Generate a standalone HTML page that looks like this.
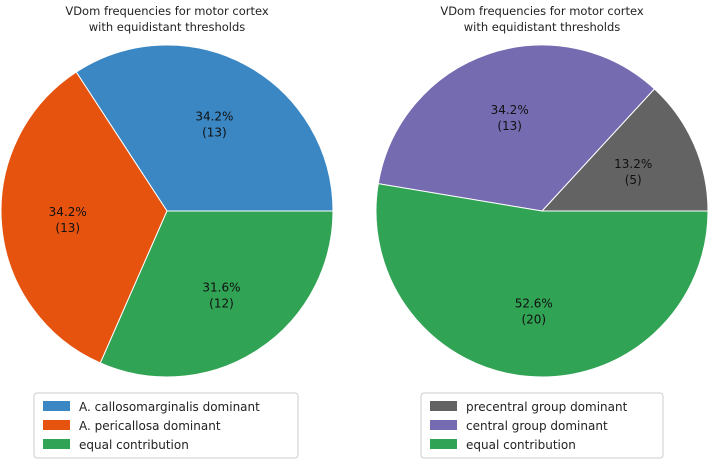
<!DOCTYPE html>
<html><head><meta charset="utf-8"><style>
body{margin:0;background:#fff;}
svg{font-family:"DejaVu Sans","Liberation Sans",sans-serif;}
</style></head><body>
<svg id="c" width="709" height="462" viewBox="0 0 709 462">
<text x="167" y="15" text-anchor="middle" font-size="11.5" fill="#222">VDom frequencies for motor cortex</text>
<text x="167" y="31" text-anchor="middle" font-size="11.5" fill="#222">with equidistant thresholds</text>
<text x="542" y="15" text-anchor="middle" font-size="11.5" fill="#222">VDom frequencies for motor cortex</text>
<text x="542" y="31" text-anchor="middle" font-size="11.5" fill="#222">with equidistant thresholds</text>
<g id="p1"></g><g id="p2"></g>
<g id="l1"></g><g id="l2"></g>
</svg>
<script>
const leftLabels=["A. callosomarginalis dominant","A. pericallosa dominant","equal contribution"];
const leftCounts=[13,13,12];
const rightLabels=["precentral group dominant","central group dominant","equal contribution"];
const rightCounts=[5,13,20];
const leftColors=["#3a87c4","#e5530f","#31a354"];
const rightColors=["#636363","#756bb1","#31a354"];
const NS="http://www.w3.org/2000/svg";
function mk(t,a,p){const e=document.createElementNS(NS,t);for(const k in a)e.setAttribute(k,a[k]);p.appendChild(e);return e;}
function pie(g,counts,colors,cx,cy,r,prefix){
  const tot=counts.reduce((a,b)=>a+b,0);let a0=0;
  counts.forEach((c,i)=>{
    const frac=c/tot,a1=a0+frac*2*Math.PI;
    const x0=cx+r*Math.cos(a0),y0=cy-r*Math.sin(a0),x1=cx+r*Math.cos(a1),y1=cy-r*Math.sin(a1);
    const p=mk("path",{d:`M${cx},${cy}L${x0},${y0}A${r},${r} 0 ${frac>0.5?1:0} 0 ${x1},${y1}Z`,fill:colors[i],stroke:"#fff","stroke-width":1},g);
    
    
    const am=(a0+a1)/2,lx=cx+0.6*r*Math.cos(am),ly=cy-0.6*r*Math.sin(am);
    const t=mk("text",{x:lx,y:ly-3,"text-anchor":"middle","font-size":12,fill:"#111"},g);
    t.textContent=(frac*100).toFixed(1)+"%";
    
    
    const t2=mk("text",{x:lx,y:ly+13,"text-anchor":"middle","font-size":12,fill:"#111"},g);
    t2.textContent="("+c+")";
    
    
    a0=a1;
  });
}
function legend(g,labels,colors,x,y,w,prefix){
  const b=mk("rect",{x:x,y:y,width:w,height:65,rx:3,fill:"#fff",stroke:"#ccc"},g);
  
  
  labels.forEach((l,i)=>{
    const s=mk("rect",{x:x+9,y:y+8+i*19,width:27,height:10,fill:colors[i]},g);
    
    
    const t=mk("text",{x:x+45,y:y+18+i*19,"font-size":12,fill:"#222"},g);
    t.textContent=l;
    
    
  });
}
pie(document.getElementById("p1"),leftCounts,leftColors,167,211,166,"left");
pie(document.getElementById("p2"),rightCounts,rightColors,542,211,166,"right");
legend(document.getElementById("l1"),leftLabels,leftColors,34,393,264,"left");
legend(document.getElementById("l2"),rightLabels,rightColors,421,393,242,"right");
</script>
</body></html>
